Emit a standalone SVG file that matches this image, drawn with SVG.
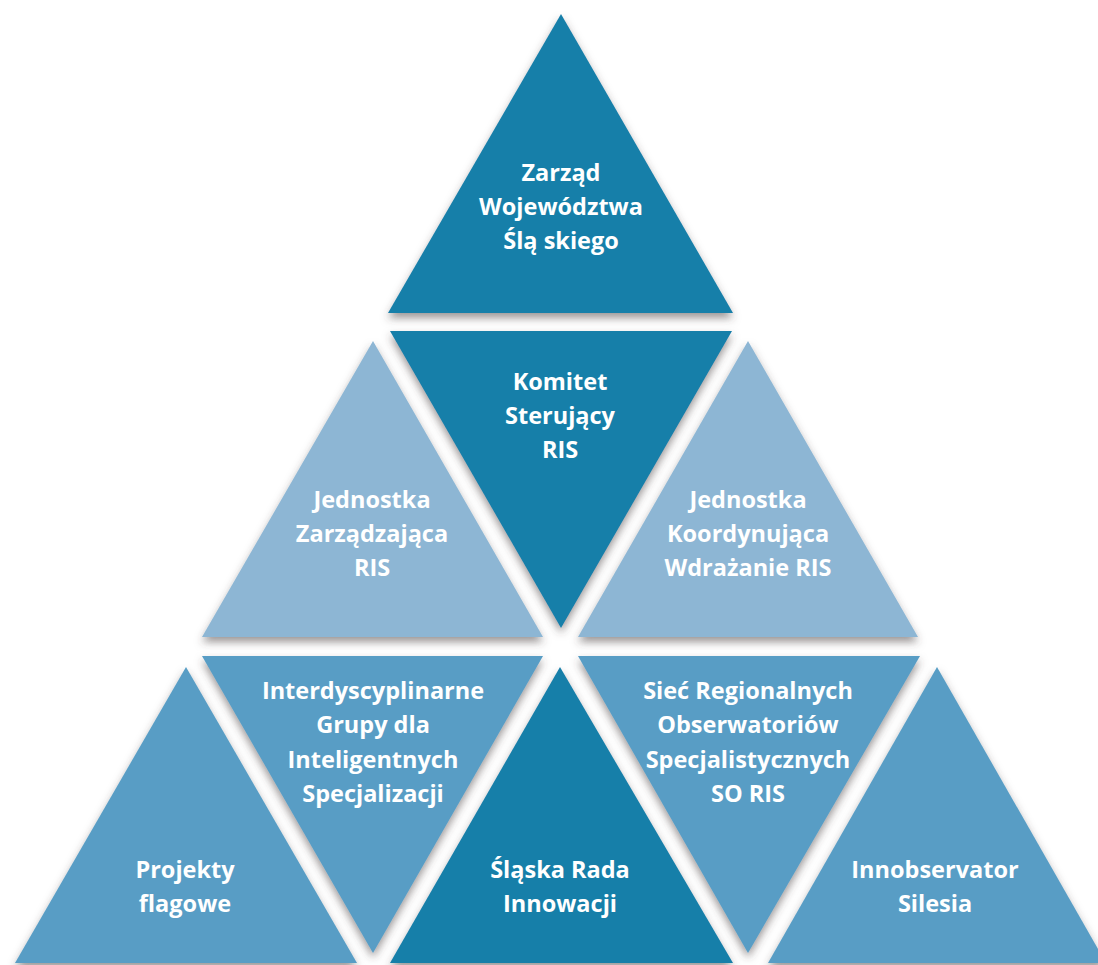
<svg xmlns="http://www.w3.org/2000/svg" width="1098" height="965" viewBox="0 0 1098 965">
<defs>
<filter id="sh" x="-10%" y="-10%" width="120%" height="130%">
<feDropShadow dx="0" dy="5" stdDeviation="4" flood-color="#4a4040" flood-opacity="0.55"/>
</filter>
</defs>
<style>
.dark{fill:#167fa9}
.light{fill:#8db6d4}
.mid{fill:#589dc5}
text{font-family:"Open Sans","Noto Sans",sans-serif;font-weight:700;font-size:23.5px;fill:#ffffff;text-anchor:middle}
</style>
<rect width="1098" height="965" fill="#ffffff"/>
<g id="n-zarzad"><polygon class="dark" filter="url(#sh)" points="561,14 388,313 733,313"/>
<text x="561" y="181">Zarząd</text><text x="561" y="215">Województwa</text><text x="561" y="249">Ślą skiego</text></g>
<g id="n-jzr"><polygon class="light" filter="url(#sh)" points="373,341 202,637 543,637"/>
<text x="372" y="508">Jednostka</text><text x="372" y="542">Zarządzająca</text><text x="372" y="576">RIS</text></g>
<g id="n-jkw"><polygon class="light" filter="url(#sh)" points="748,341 578,637 918,637"/>
<text x="748" y="508">Jednostka</text><text x="748" y="542">Koordynująca</text><text x="748" y="576">Wdrażanie RIS</text></g>
<g id="n-komitet"><polygon class="dark" filter="url(#sh)" points="390,331 732,331 561,628"/>
<text x="560" y="390">Komitet</text><text x="560" y="424">Sterujący</text><text x="560" y="458">RIS</text></g>
<g id="n-projekty"><polygon class="mid" filter="url(#sh)" points="186,667 15,963 357,963"/>
<text x="185" y="878">Projekty</text><text x="185" y="912">flagowe</text></g>
<g id="n-rada"><polygon class="dark" filter="url(#sh)" points="560,667 390,963 733,963"/>
<text x="560" y="878">Śląska Rada</text><text x="560" y="912">Innowacji</text></g>
<g id="n-innob"><polygon class="mid" filter="url(#sh)" points="937,667 768,963 1106,963"/>
<text x="935" y="878">Innobservator</text><text x="935" y="912">Silesia</text></g>
<g id="n-igis"><polygon class="mid" filter="url(#sh)" points="202,656 543,656 373,953"/>
<text x="373" y="699">Interdyscyplinarne</text><text x="373" y="733">Grupy dla</text><text x="373" y="768">Inteligentnych</text><text x="373" y="802">Specjalizacji</text></g>
<g id="n-siec"><polygon class="mid" filter="url(#sh)" points="578,656 920,656 748,953"/>
<text x="748" y="699">Sieć Regionalnych</text><text x="748" y="733">Obserwatoriów</text><text x="748" y="768">Specjalistycznych</text><text x="748" y="802">SO RIS</text></g>
<g id="connectors"></g>
</svg>
